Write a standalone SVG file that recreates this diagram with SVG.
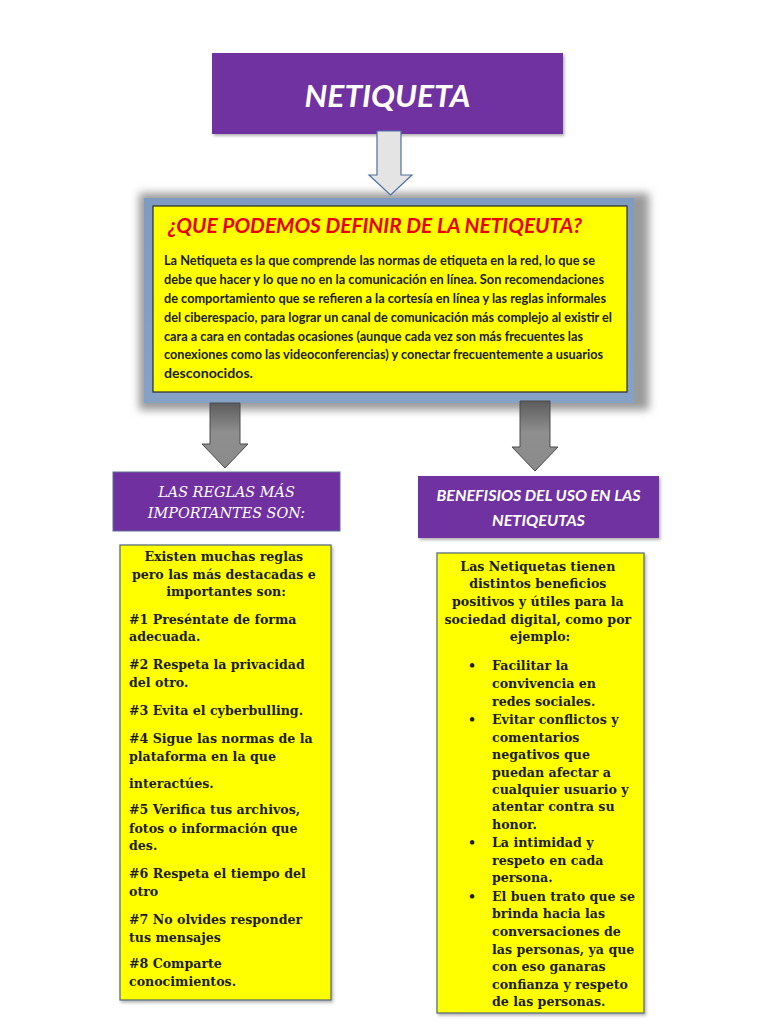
<svg xmlns="http://www.w3.org/2000/svg" width="768" height="1024" viewBox="0 0 768 1024">
  <defs>
    <filter id="blur8" x="-10%" y="-20%" width="120%" height="140%">
      <feGaussianBlur stdDeviation="4"/>
    </filter>
    <filter id="shadow" x="-5%" y="-5%" width="115%" height="120%">
      <feDropShadow dx="1.5" dy="2" stdDeviation="1.5" flood-color="#000" flood-opacity="0.3"/>
    </filter>
    <linearGradient id="grayArrow" x1="0" y1="0" x2="0" y2="1">
      <stop offset="0" stop-color="#5c5c5c"/>
      <stop offset="0.45" stop-color="#8f8f8f"/>
      <stop offset="1" stop-color="#8a8a8a"/>
    </linearGradient>
    <linearGradient id="blueFrame" x1="0" y1="0" x2="0" y2="1">
      <stop offset="0" stop-color="#7f9bbf"/>
      <stop offset="1" stop-color="#86a1c6"/>
    </linearGradient>
  </defs>
  <style>
    .purple { fill: #7030a0; }
    .yellow { fill: #ffff00; }
    .ybox { fill: #ffff00; stroke: #50647a; stroke-width: 1.2; }
    .title { font-family: Lato, "Liberation Sans", sans-serif; font-weight: bold; font-style: italic; fill: #ffffff; }
    .head { font-family: Lato, "Liberation Sans", sans-serif; font-weight: bold; font-style: italic; fill: #e80000; }
    .body { font-family: Lato, "Liberation Sans", sans-serif; font-weight: bold; font-size: 12.6px; fill: #1c1c1c; }
    .serifh { font-family: "DejaVu Serif", "Liberation Serif", serif; font-style: italic; font-size: 14.4px; fill: #ffffff; }
    .sansh { font-family: Lato, "Liberation Sans", sans-serif; font-weight: bold; font-style: italic; font-size: 15px; fill: #ffffff; }
    .serif { font-family: "DejaVu Serif", "Liberation Serif", serif; font-weight: bold; font-size: 12.6px; fill: #1c1c1c; }
    .grayArrow { fill: url(#grayArrow); stroke: #4a4a4a; stroke-width: 1; }
    .lightArrow { fill: #e4e4e4; stroke: #4f6fa0; stroke-width: 1.2; }
  </style>

  <rect width="768" height="1024" fill="#ffffff"/>

  <!-- Title node -->
  <g id="node-netiqueta">
    <rect x="212" y="53" width="351" height="81" class="purple" filter="url(#shadow)"/>
    <text x="387.5" y="107" class="title" font-size="30" text-anchor="middle" textLength="166" lengthAdjust="spacingAndGlyphs">NETIQUETA</text>
  </g>

  <!-- Definition node -->
  <g id="node-definicion">
    <rect x="139" y="193" width="510" height="217" fill="#9a9a9a" filter="url(#blur8)"/>
    <rect x="144" y="198" width="490" height="205" fill="url(#blueFrame)"/>
    <rect x="153" y="206" width="474" height="186" class="yellow" stroke="#2a2a2a" stroke-width="1.2"/>
    <text x="168" y="233" class="head" font-size="21" textLength="414" lengthAdjust="spacingAndGlyphs">¿QUE PODEMOS DEFINIR DE LA NETIQEUTA?</text>
    <text x="164" y="265" class="body" textLength="431" lengthAdjust="spacingAndGlyphs">La Netiqueta es la que comprende las normas de etiqueta en la red, lo que se</text>
    <text x="164" y="284" class="body" textLength="440" lengthAdjust="spacingAndGlyphs">debe que hacer y lo que no en la comunicación en línea. Son recomendaciones</text>
    <text x="164" y="302.5" class="body" textLength="442" lengthAdjust="spacingAndGlyphs">de comportamiento que se refieren a la cortesía en línea y las reglas informales</text>
    <text x="164" y="321.5" class="body" textLength="448" lengthAdjust="spacingAndGlyphs">del ciberespacio, para lograr un canal de comunicación más complejo al existir el</text>
    <text x="164" y="340.5" class="body" textLength="419" lengthAdjust="spacingAndGlyphs">cara a cara en contadas ocasiones (aunque cada vez son más frecuentes las</text>
    <text x="164" y="359" class="body" textLength="439" lengthAdjust="spacingAndGlyphs">conexiones como las videoconferencias) y conectar frecuentemente a usuarios</text>
    <text x="164" y="378" class="body" textLength="89" lengthAdjust="spacingAndGlyphs">desconocidos.</text>
  </g>

  <!-- Rules header node -->
  <g id="node-reglas-titulo">
    <rect x="113" y="472" width="227" height="59" class="purple" stroke="#5a6f9a" stroke-width="1"/>
    <text x="226.5" y="497" class="serifh" text-anchor="middle">LAS REGLAS MÁS</text>
    <text x="226.5" y="518" class="serifh" text-anchor="middle">IMPORTANTES SON:</text>
  </g>

  <!-- Benefits header node -->
  <g id="node-beneficios-titulo">
    <rect x="418" y="476" width="241" height="62" class="purple" filter="url(#shadow)"/>
    <text x="538.5" y="501" class="sansh" text-anchor="middle" textLength="204" lengthAdjust="spacingAndGlyphs">BENEFISIOS DEL USO EN LAS</text>
    <text x="538.5" y="526" class="sansh" text-anchor="middle" textLength="93" lengthAdjust="spacingAndGlyphs">NETIQEUTAS</text>
  </g>

  <!-- Rules body node -->
  <g id="node-reglas">
    <rect x="120" y="545" width="211" height="455" class="ybox" filter="url(#shadow)"/>
    <text class="serif" text-anchor="middle">
      <tspan x="226" y="561">Existen muchas reglas</tspan>
      <tspan x="226" y="579">pero las más destacadas e</tspan>
      <tspan x="226" y="596">importantes son:</tspan>
    </text>
    <text class="serif">
      <tspan x="129" y="624">#1 Preséntate de forma</tspan>
      <tspan x="129" y="641">adecuada.</tspan>
      <tspan x="129" y="669">#2 Respeta la privacidad</tspan>
      <tspan x="129" y="687">del otro.</tspan>
      <tspan x="129" y="715">#3 Evita el cyberbulling.</tspan>
      <tspan x="129" y="743">#4 Sigue las normas de la</tspan>
      <tspan x="129" y="761">plataforma en la que</tspan>
      <tspan x="129" y="788">interactúes.</tspan>
      <tspan x="129" y="814">#5 Verifica tus archivos,</tspan>
      <tspan x="129" y="833">fotos o información que</tspan>
      <tspan x="129" y="850">des.</tspan>
      <tspan x="129" y="878">#6 Respeta el tiempo del</tspan>
      <tspan x="129" y="896">otro</tspan>
      <tspan x="129" y="924">#7 No olvides responder</tspan>
      <tspan x="129" y="942">tus mensajes</tspan>
      <tspan x="129" y="968">#8 Comparte</tspan>
      <tspan x="129" y="986">conocimientos.</tspan>
    </text>
  </g>

  <!-- Benefits body node -->
  <g id="node-beneficios">
    <rect x="437" y="553" width="207" height="460" class="ybox" filter="url(#shadow)"/>
    <text class="serif" text-anchor="middle">
      <tspan x="540" y="571">Las Netiquetas tienen</tspan>
      <tspan x="540" y="588">distintos beneficios</tspan>
      <tspan x="540" y="606">positivos y útiles para la</tspan>
      <tspan x="540" y="624">sociedad digital, como por</tspan>
      <tspan x="540" y="641">ejemplo:</tspan>
    </text>
    <text class="serif">
      <tspan x="468" y="670">•</tspan>
      <tspan x="468" y="724">•</tspan>
      <tspan x="468" y="847">•</tspan>
      <tspan x="468" y="901">•</tspan>
    </text>
    <text class="serif">
      <tspan x="492" y="670">Facilitar la</tspan>
      <tspan x="492" y="688">convivencia en</tspan>
      <tspan x="492" y="706">redes sociales.</tspan>
      <tspan x="492" y="724">Evitar conflictos y</tspan>
      <tspan x="492" y="742">comentarios</tspan>
      <tspan x="492" y="759">negativos que</tspan>
      <tspan x="492" y="777">puedan afectar a</tspan>
      <tspan x="492" y="794">cualquier usuario y</tspan>
      <tspan x="492" y="811">atentar contra su</tspan>
      <tspan x="492" y="829">honor.</tspan>
      <tspan x="492" y="847">La intimidad y</tspan>
      <tspan x="492" y="865">respeto en cada</tspan>
      <tspan x="492" y="882">persona.</tspan>
      <tspan x="492" y="901">El buen trato que se</tspan>
      <tspan x="492" y="918">brinda hacia las</tspan>
      <tspan x="492" y="936">conversaciones de</tspan>
      <tspan x="492" y="954">las personas, ya que</tspan>
      <tspan x="492" y="971">con eso ganaras</tspan>
      <tspan x="492" y="989">confianza y respeto</tspan>
      <tspan x="492" y="1006">de las personas.</tspan>
    </text>
  </g>

  <!-- Connectors -->
  <g id="connectors">
    <polygon class="lightArrow" points="377,131 401,131 401,175 412,175 390.5,195 369,175 377,175"/>
    <polygon class="grayArrow" points="210,403 240,403 240,444 248,444 225,468 202,444 210,444"/>
    <polygon class="grayArrow" points="520,401 550,401 550,447 558,447 535,471 512,447 520,447"/>
  </g>
</svg>
